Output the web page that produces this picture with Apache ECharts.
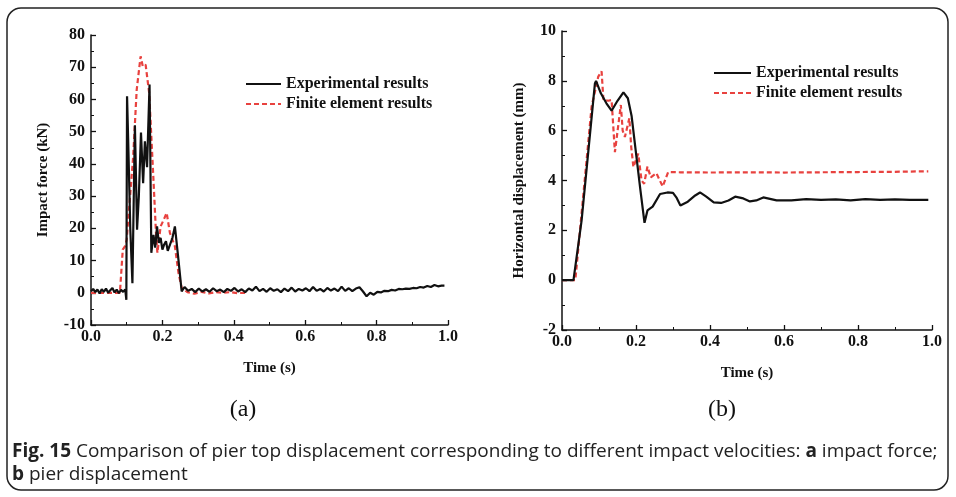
<!DOCTYPE html>
<html><head><meta charset="utf-8">
<script src="https://cdn.jsdelivr.net/npm/echarts@6/dist/echarts.min.js"></script>
<style>html,body{margin:0;padding:0;background:#fff}#c{width:956px;height:497px}</style>
</head><body><div id="c"></div>
<script>
// (a) Impact force — experimental
const tForceExp = [0,0.006,0.012,0.018,0.024,0.03,0.036,0.042,0.048,0.054,0.06,0.066,0.072,0.078,0.084,0.09,0.096,
  0.099,0.101,0.104,0.110,0.116,0.123,0.129,0.134,0.140,0.146,0.151,0.157,0.164,0.169,0.175,0.180,0.185,0.190,0.195,0.200,0.205,0.210,0.215,0.220,0.228,0.235,0.245,0.254,
  0.262,0.272,0.282,0.292,0.302,0.312,0.322,0.332,0.342,0.352,0.362,0.372,0.382,0.392,0.402,0.412,0.422,0.432,0.442,0.452,0.462,0.472,0.482,0.492,0.502,0.512,0.522,0.532,0.542,0.552,0.562,0.572,0.582,0.592,0.602,0.612,0.622,0.632,0.642,0.652,0.662,0.672,0.682,0.692,0.702,0.712,0.722,0.732,0.742,0.752,0.762,0.772,0.782,0.792,0.802,0.812,0.822,0.832,0.842,0.852,0.862,0.872,0.882,0.892,0.902,0.912,0.922,0.932,0.942,0.952,0.962,0.972,0.982,0.990];
const vForceExp = [0.5,1.2,0.2,1.0,-0.2,1.1,0.3,1.3,0,0.8,1.5,0.1,1.0,-0.1,0.9,0.3,1.0,
  -2.2,61,48,20,3,52,19.6,30,49.7,34,47,39,64.6,12.4,18,14,20.6,15.5,17,13.4,15,16,13,12.4,17,20.6,10.2,0.4,
  1.8,0.6,1.2,0.2,1.3,0.4,1.1,0.3,1.4,0.5,1.0,0.2,1.2,0.6,1.5,0.4,1.1,0.2,1.3,0.7,1.9,0.5,1.2,0.3,1.4,0.6,1.1,0.2,1.3,0.5,1.6,0.4,1.2,0.7,1.4,0.5,1.8,0.6,1.2,0.4,1.5,0.7,1.3,0.5,1.9,0.6,1.4,0.5,1.3,1.7,0.4,-1.1,0,-0.6,0.3,0.1,0.6,0.5,0.9,0.7,1.2,1.1,1.3,1.2,1.5,1.4,1.8,1.6,2.1,1.8,2.4,2.0,2.2,2.2];
// (a) Impact force — finite element
const tForceFE = [0,0.04,0.081,0.089,0.095,0.100,0.108,0.118,0.128,0.139,0.145,0.153,0.163,0.175,0.182,0.186,0.195,0.205,0.212,0.221,0.235,0.245,0.254,0.270,0.290,0.310,0.330,0.350,0.370,0.390,0.410,0.436];
const vForceFE = [0,0,0,13.4,14.4,16.5,28,42,63,73.4,70.3,70.8,62,35,18.6,12.4,20.6,23,24.8,18.6,14.4,6.2,1.5,0.2,-0.3,0.3,-0.2,0.2,0,0.2,-0.1,0];
// (b) Horizontal displacement — experimental
const tDispExp = [0,0.031,0.053,0.089,0.092,0.105,0.120,0.134,0.150,0.166,0.178,0.188,0.200,0.212,0.223,0.231,0.245,0.265,0.285,0.300,0.310,0.320,0.340,0.360,0.373,0.390,0.410,0.430,0.450,0.468,0.490,0.508,0.525,0.544,0.562,0.580,0.620,0.660,0.700,0.740,0.780,0.820,0.860,0.900,0.940,0.990];
const vDispExp = [0,0,2.4,7.9,8.0,7.5,7.1,6.8,7.2,7.54,7.3,6.6,5.1,3.6,2.3,2.8,2.95,3.46,3.52,3.5,3.3,3.0,3.15,3.4,3.52,3.35,3.12,3.1,3.2,3.35,3.28,3.16,3.2,3.32,3.26,3.2,3.2,3.25,3.22,3.24,3.2,3.25,3.22,3.24,3.22,3.22];
// (b) Horizontal displacement — finite element
const tDispFE = [0,0.036,0.080,0.098,0.107,0.112,0.125,0.134,0.143,0.159,0.164,0.170,0.182,0.187,0.193,0.206,0.215,0.222,0.231,0.240,0.255,0.272,0.287,0.320,0.400,0.500,0.600,0.700,0.800,0.900,0.990];
const vDispFE = [0,0,6.96,8.17,8.38,7.23,7.2,7.23,5.14,7.03,6.0,5.75,6.5,5.35,4.54,5.08,4.0,3.87,4.56,4.13,4.3,3.76,4.34,4.33,4.32,4.33,4.32,4.33,4.34,4.35,4.37];

const yTicksA = [-10,80,10];
const yTicksB = [-2,10,2];

const zip = (t, v) => t.map((x, i) => [x, v[i]]);
const SERIF = '"Liberation Serif", "DejaVu Serif", serif';
const lblStyle = {fontFamily: SERIF, fontWeight: 'bold', fontSize: 16, color: '#111'};
const axisLine = {show: true, onZero: false, lineStyle: {color: '#111', width: 1.5}};
const axisTick = {show: true, inside: true, length: 5, lineStyle: {color: '#111', width: 1.3}};
const minorTick = {show: true, splitNumber: 2, length: 3, lineStyle: {color: '#111', width: 1}};

function xAx(gi){
  return {type: 'value', gridIndex: gi, min: 0, max: 1, interval: 0.2,
    name: 'Time (s)', nameLocation: 'middle', nameGap: 36,
    nameTextStyle: {fontFamily: SERIF, fontWeight: 'bold', fontSize: 15, color: '#111'},
    axisLine, axisTick, minorTick, splitLine: {show: false},
    axisLabel: Object.assign({margin: 4, formatter: v => v.toFixed(1)}, lblStyle)};
}
function yAx(gi, ticks, name, gap){
  return {type: 'value', gridIndex: gi, min: ticks[0], max: ticks[1], interval: ticks[2],
    name, nameLocation: 'middle', nameGap: gap,
    nameTextStyle: {fontFamily: SERIF, fontWeight: 'bold', fontSize: 15, color: '#111'},
    axisLine, axisTick, minorTick, splitLine: {show: false},
    axisLabel: Object.assign({margin: 6}, lblStyle)};
}
const blackLine = {color: '#111', width: 2.2, type: 'solid'};
const redLine = {color: '#e8423f', width: 2.2, type: [5, 3]};
function ser(name, gi, data, ls){
  return {name, type: 'line', xAxisIndex: gi, yAxisIndex: gi, data, symbol: 'none', showSymbol: false,
    lineStyle: ls, itemStyle: {color: ls.color}, animation: false, z: name.startsWith('Exp') ? 3 : 2};
}
const legendText = {fontFamily: SERIF, fontWeight: 'bold', fontSize: 16, color: '#111'};
const legendData = ['Experimental results', 'Finite element results'];
const legendCommon = {orient: 'vertical', itemHeight: 14, itemGap: 4, textStyle: legendText, data: legendData,
  selectedMode: false, itemStyle: {opacity: 0}};

const chart = echarts.init(document.getElementById('c'), null, {renderer: 'canvas'});
chart.setOption({
  backgroundColor: '#fff',
  animation: false,
  grid: [
    {left: 91, right: 508, top: 35, bottom: 172},
    {left: 562, right: 24, top: 31, bottom: 167}
  ],
  xAxis: [xAx(0), xAx(1)],
  yAxis: [yAx(0, yTicksA, 'Impact force (kN)', 40), yAx(1, yTicksB, 'Horizontal displacement (mm)', 35)],
  legend: [
    Object.assign({left: 240, top: 71, itemWidth: 35}, legendCommon),
    Object.assign({left: 708, top: 60, itemWidth: 37}, legendCommon)
  ],
  series: [
    ser('Finite element results', 0, zip(tForceFE, vForceFE), redLine),
    ser('Experimental results', 0, zip(tForceExp, vForceExp), blackLine),
    ser('Finite element results', 1, zip(tDispFE, vDispFE), redLine),
    ser('Experimental results', 1, zip(tDispExp, vDispExp), blackLine)
  ],
  graphic: [
    {type: 'rect', shape: {x: 7, y: 8, width: 941, height: 482, r: 14}, style: {fill: 'none', stroke: '#222', lineWidth: 1.5}, silent: true},
    {type: 'text', x: 243, y: 410, style: {text: '(a)', font: '24px ' + SERIF, fill: '#111', align: 'center', verticalAlign: 'middle'}},
    {type: 'text', x: 722, y: 410, style: {text: '(b)', font: '24px ' + SERIF, fill: '#111', align: 'center', verticalAlign: 'middle'}},
    {type: 'text', x: 12, y: 463.5, style: {
      text: '{b|Fig. 15} Comparison of pier top displacement corresponding to different impact velocities: {b|a} impact force;\n{b|b} pier displacement',
      fontFamily: '"Open Sans", sans-serif', fontSize: 19, fill: '#222', lineHeight: 23, verticalAlign: 'middle',
      rich: {b: {fontWeight: 'bold', fontFamily: '"Open Sans", sans-serif', fontSize: 19, fill: '#222', lineHeight: 23}}}}
  ]
});
</script></body></html>
